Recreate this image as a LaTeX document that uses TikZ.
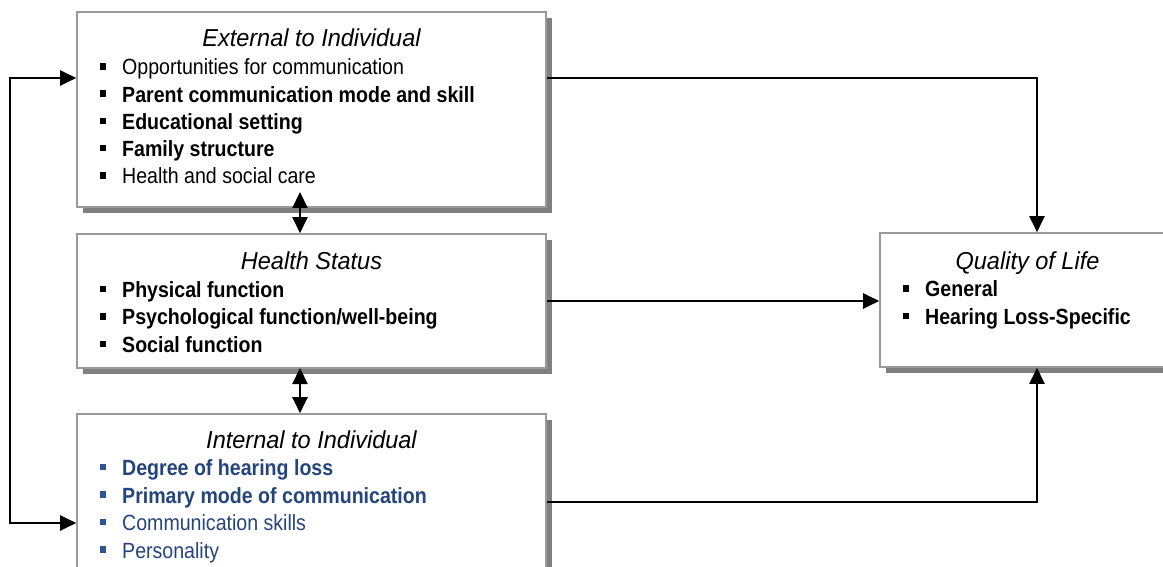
\documentclass[tikz,border=0pt]{standalone}
\usepackage{fontspec}
\setmainfont{Liberation Sans}
\newfontfamily\itemfont[FakeStretch=0.89]{Liberation Sans}
\newfontfamily\headfont[FakeStretch=0.96]{Liberation Sans}
\usetikzlibrary{arrows.meta,shadows}
\definecolor{boxline}{HTML}{9A9A9A}
\definecolor{boxshade}{HTML}{808080}
\definecolor{navy}{HTML}{24457C}
\definecolor{navybul}{HTML}{2F5597}

\begin{document}
\begin{tikzpicture}[x=1pt,y=-1pt,
  panel/.style={rectangle, draw=boxline, line width=1.6pt, fill=white, inner sep=0pt,
    drop shadow={shadow xshift=6pt, shadow yshift=-6pt, fill=boxshade, opacity=1}},
  head/.style={font=\headfont\fontsize{24.5}{29}\selectfont\itshape, anchor=base, inner sep=0pt},
  itm/.style={font=\itemfont\fontsize{22}{26}\selectfont, anchor=base west, inner sep=0pt},
  itmb/.style={font=\itemfont\fontsize{22}{26}\selectfont\bfseries, anchor=base west, inner sep=0pt},
  bul/.style={rectangle, fill=black, minimum size=6.5pt, inner sep=0pt},
  conn/.style={draw=black, line width=2.2pt},
  >={Triangle[length=16pt,width=15pt]}]

\useasboundingbox (0,0) rectangle (1163,567);
\clip (0,0) rectangle (1163,567);
\fill[white] (0,0) rectangle (1163,567);

% the four panels
\node[panel, minimum width=469pt, minimum height=195pt] (ext) at (311.5,109.5) {};
\node[panel, minimum width=469pt, minimum height=134pt] (hs)  at (311.5,301) {};
\node[panel, minimum width=469pt, minimum height=206pt] (int) at (311.5,517) {};
\node[panel, minimum width=295pt, minimum height=134pt] (qol) at (1027.5,300) {};

% External to Individual
\node[head] (extH) at (311.5,46.7) {External to Individual};
\node[bul] (eb1) at (103,66.5) {};
\node[itm]  (et1) at (122,75)    {Opportunities for communication};
\node[bul] (eb2) at (103,93.7) {};
\node[itmb] (et2) at (122,102.2) {Parent communication mode and skill};
\node[bul] (eb3) at (103,121) {};
\node[itmb] (et3) at (122,129.5) {Educational setting};
\node[bul] (eb4) at (103,148.2) {};
\node[itmb] (et4) at (122,156.7) {Family structure};
\node[bul] (eb5) at (103,175.5) {};
\node[itm]  (et5) at (122,184)   {Health and social care};

% Health Status
\node[head] (hsH) at (311.5,269.3) {Health Status};
\node[bul] (hb1) at (103,288.8) {};
\node[itmb] (ht1) at (122,297.3) {Physical function};
\node[bul] (hb2) at (103,316.3) {};
\node[itmb] (ht2) at (122,324.8) {Psychological function/well-being};
\node[bul] (hb3) at (103,343.8) {};
\node[itmb] (ht3) at (122,352.3) {Social function};

% Internal to Individual
\node[head] (intH) at (311.5,448) {Internal to Individual};
\node[bul, fill=navybul] (ib1) at (103,467) {};
\node[itmb, text=navy] (it1) at (122,475.5) {Degree of hearing loss};
\node[bul, fill=navybul] (ib2) at (103,494.5) {};
\node[itmb, text=navy] (it2) at (122,503) {Primary mode of communication};
\node[bul, fill=navybul] (ib3) at (103,522) {};
\node[itm, text=navy]  (it3) at (122,530.5) {Communication skills};
\node[bul, fill=navybul] (ib4) at (103,549.5) {};
\node[itm, text=navy]  (it4) at (122,558) {Personality};

% Quality of Life
\node[head] (qolH) at (1027.5,269.3) {Quality of Life};
\node[bul] (qb1) at (906,288.3) {};
\node[itmb] (qt1) at (925,296.8) {General};
\node[bul] (qb2) at (906,315.8) {};
\node[itmb] (qt2) at (925,324.3) {Hearing Loss-Specific};

% routing points
\coordinate (loopTop) at (10,78);
\coordinate (loopBot) at (10,523);
\coordinate (extOut)  at (1037,78);
\coordinate (intOut)  at (1037,502);
\coordinate (extDn)   at (300,192);
\coordinate (hsDn)    at (300,368);

% connectors
\draw[conn,<->] (ext.west |- loopTop) -- (loopTop) -- (loopBot) -- (int.west |- loopBot);
\draw[conn,<->] (extDn) -- (extDn |- hs.north);
\draw[conn,<->] (hsDn) -- (hsDn |- int.north);
\draw[conn,->] (ext.east |- extOut) -- (extOut) -- (extOut |- qol.north);
\draw[conn,->] (hs.east) -- (hs.east -| qol.west);
\draw[conn,->] (int.east |- intOut) -- (intOut) -- (intOut |- qol.south);
\end{tikzpicture}
\end{document}
